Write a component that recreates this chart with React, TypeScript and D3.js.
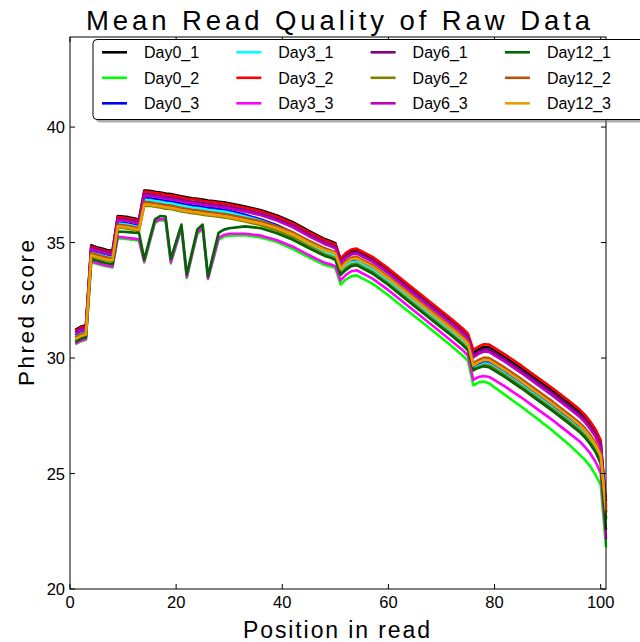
import React from 'react';
import * as d3 from 'd3';

const positions = [1,2,3,4,5,6,7,8,9,10,11,12,13,14,15,16,17,18,19,20,21,22,23,24,25,26,27,28,29,30,
  33,36,39,42,45,48,49,50,51,52,53,54,57,60,63,66,69,72,74,75,76,77,78,79,82,85,88,91,94,96,97,98,99,100,101];

const seriesNames = ['Day0_1','Day0_2','Day0_3','Day3_1','Day3_2','Day3_3','Day6_1','Day6_2','Day6_3','Day12_1','Day12_2','Day12_3'];

const day0_1 = [31.22,31.35,31.42, 34.88,34.80,34.74,34.68,34.64, 36.15,36.13,36.10,36.05,36.00,
  37.25,37.24,37.20,37.17,37.12,37.10,37.05,37.00,36.96,36.92,36.90,36.86,36.82,36.80,36.77,36.74,36.70,
  36.56,36.40,36.17,35.88,35.50,35.15,35.07,34.97,
  34.24,34.49,34.64,34.68,34.32,33.82,33.26,32.71,32.16,31.61,31.22,30.99,
  30.23,30.38,30.48,30.46,30.03,29.56,29.06,28.56,28.03,27.66,27.43,27.14,26.80,26.33, 23.35];
const day0_2 = [30.59,30.72,30.79, 34.16,34.08,34.02,33.96,33.92, 35.19,35.17,35.14,35.11,35.08,
  34.14,35.00,35.85,35.97,35.95,34.10,34.86,35.60,33.47,34.44,35.38,35.58,33.42,34.26,35.12,35.26,35.30,
  35.32,35.22,35.02,34.72,34.36,34.03,33.98,33.90,
  33.18,33.40,33.54,33.58,33.22,32.72,32.16,31.61,31.06,30.50,30.10,29.88,
  28.82,28.95,28.98,28.90,28.40,27.90,27.38,26.84,26.26,25.82,25.60,25.32,24.95,24.52, 21.80];
const day0_3 = [30.97,31.10,31.17, 34.63,34.55,34.49,34.43,34.39, 35.87,35.85,35.82,35.77,35.72,
  36.93,36.92,36.88,36.85,36.80,36.78,36.73,36.68,36.64,36.60,36.58,36.54,36.50,36.48,36.45,36.42,36.38,
  36.20,36.00,35.75,35.43,35.03,34.67,34.58,34.47,
  33.80,34.05,34.20,34.24,33.88,33.38,32.82,32.27,31.72,31.17,30.78,30.55,
  29.60,29.75,29.85,29.83,29.40,28.93,28.43,27.93,27.40,27.03,26.80,26.51,26.17,25.70, 23.10];
const day3_1 = [30.92,31.05,31.12, 34.58,34.50,34.44,34.38,34.34, 35.82,35.80,35.77,35.72,35.67,
  36.85,36.84,36.80,36.77,36.72,36.70,36.65,36.60,36.56,36.52,36.50,36.46,36.42,36.40,36.37,36.34,36.30,
  36.13,35.94,35.69,35.38,34.98,34.61,34.52,34.41,
  33.74,33.99,34.14,34.18,33.82,33.32,32.76,32.21,31.66,31.11,30.72,30.49,
  29.51,29.66,29.76,29.74,29.31,28.84,28.34,27.84,27.31,26.94,26.71,26.42,26.08,25.61, 23.00];
const day3_2 = [31.18,31.31,31.38, 34.83,34.75,34.69,34.63,34.59, 36.10,36.08,36.05,36.00,35.95,
  37.20,37.19,37.15,37.12,37.07,37.05,37.00,36.95,36.91,36.87,36.85,36.81,36.77,36.75,36.72,36.69,36.65,
  36.51,36.35,36.12,35.83,35.45,35.10,35.02,34.92,
  34.30,34.55,34.70,34.74,34.38,33.88,33.32,32.77,32.22,31.67,31.28,31.05,
  30.35,30.50,30.60,30.58,30.15,29.68,29.18,28.68,28.15,27.78,27.55,27.26,26.92,26.45, 23.50];
const day3_3 = [30.62,30.75,30.82, 34.20,34.12,34.06,34.00,33.96, 35.25,35.23,35.20,35.17,35.14,
  34.18,35.05,35.90,36.02,36.00,34.15,34.92,35.66,33.52,34.50,35.45,35.64,33.45,34.32,35.20,35.33,35.38,
  35.38,35.30,35.10,34.82,34.46,34.12,34.06,33.98,
  33.36,33.60,33.76,33.80,33.44,32.94,32.38,31.83,31.28,30.72,30.34,30.10,
  29.05,29.18,29.22,29.18,28.76,28.30,27.80,27.30,26.76,26.40,26.16,25.88,25.52,25.02, 22.15];
const day6_1 = [31.12,31.25,31.32, 34.78,34.70,34.64,34.58,34.54, 36.03,36.01,35.98,35.93,35.88,
  37.10,37.09,37.05,37.02,36.97,36.95,36.90,36.85,36.81,36.77,36.75,36.71,36.67,36.65,36.62,36.59,36.55,
  36.41,36.25,36.02,35.73,35.35,35.00,34.92,34.82,
  34.15,34.40,34.55,34.59,34.23,33.73,33.17,32.62,32.07,31.52,31.13,30.90,
  30.13,30.28,30.38,30.36,29.93,29.46,28.96,28.46,27.93,27.56,27.33,27.04,26.70,26.23, 23.80];
const day6_2 = [30.77,30.90,30.97, 34.42,34.34,34.28,34.22,34.18, 35.65,35.63,35.60,35.55,35.50,
  36.60,36.59,36.55,36.52,36.47,36.45,36.40,36.35,36.31,36.27,36.25,36.21,36.17,36.15,36.12,36.09,36.05,
  35.91,35.75,35.52,35.23,34.85,34.50,34.42,34.32,
  33.65,33.90,34.05,34.09,33.73,33.23,32.67,32.12,31.57,31.02,30.63,30.40,
  29.45,29.60,29.70,29.68,29.25,28.78,28.28,27.78,27.25,26.88,26.65,26.36,26.02,25.55, 23.00];
const day6_3 = [31.07,31.20,31.27, 34.72,34.64,34.58,34.52,34.48, 35.97,35.95,35.92,35.87,35.82,
  37.03,37.02,36.98,36.95,36.90,36.88,36.83,36.78,36.74,36.70,36.68,36.64,36.60,36.58,36.55,36.52,36.48,
  36.34,36.18,35.95,35.66,35.28,34.93,34.85,34.75,
  34.08,34.33,34.48,34.52,34.16,33.66,33.10,32.55,32.00,31.45,31.06,30.83,
  30.03,30.18,30.28,30.26,29.83,29.36,28.86,28.36,27.83,27.46,27.23,26.94,26.60,26.13, 23.60];
const day12_1 = [30.70,30.83,30.90, 34.30,34.22,34.16,34.10,34.06, 35.48,35.47,35.45,35.43,35.42,
  34.27,35.15,36.00,36.15,36.13,34.29,35.05,35.78,33.62,34.60,35.57,35.78,33.54,34.50,35.42,35.56,35.62,
  35.70,35.62,35.40,35.12,34.76,34.42,34.35,34.25,
  33.60,33.82,33.98,34.02,33.66,33.16,32.60,32.05,31.50,30.95,30.56,30.33,
  29.50,29.58,29.64,29.60,29.17,28.70,28.20,27.70,27.17,26.80,26.57,26.28,25.94,25.45, 22.55];
const day12_2 = [30.89,31.02,31.09, 34.55,34.47,34.41,34.35,34.31, 35.77,35.75,35.72,35.67,35.62,
  36.75,36.74,36.70,36.67,36.62,36.60,36.55,36.50,36.46,36.42,36.40,36.36,36.32,36.30,36.27,36.24,36.20,
  36.06,35.92,35.71,35.44,35.08,34.75,34.67,34.57,
  33.94,34.19,34.34,34.38,34.02,33.52,32.96,32.41,31.86,31.31,30.92,30.69,
  29.77,29.92,30.02,30.00,29.57,29.10,28.60,28.10,27.57,27.20,26.97,26.68,26.34,25.87, 23.30];
const day12_3 = [30.82,30.95,31.02, 34.46,34.38,34.32,34.26,34.22, 35.70,35.68,35.65,35.60,35.55,
  36.65,36.64,36.60,36.57,36.52,36.50,36.45,36.40,36.36,36.32,36.30,36.26,36.22,36.20,36.17,36.14,36.10,
  35.96,35.82,35.62,35.36,35.00,34.67,34.61,34.52,
  33.87,34.12,34.27,34.31,33.95,33.45,32.89,32.34,31.79,31.24,30.85,30.62,
  29.67,29.82,29.92,29.90,29.47,29.00,28.50,28.00,27.47,27.10,26.87,26.58,26.24,25.77, 23.40];

const seriesValues = [day0_1, day0_2, day0_3, day3_1, day3_2, day3_3, day6_1, day6_2, day6_3, day12_1, day12_2, day12_3];
const seriesColors = ['#000000','#00ff00','#0000ff','#00ffff','#ff0000','#ff00ff','#800080','#808000','#bf00bf','#006400','#b8520a','#eb9c00'];

const xTicks = [0, 20, 40, 60, 80, 100];
const yTicks = [20, 25, 30, 35, 40];

const FONT = '"Liberation Sans", Arial, Helvetica, sans-serif';

export default function App() {
  const W = 640, H = 642;
  const L = 70, R = 606, T = 37, B = 589;
  const x = d3.scaleLinear().domain([0, 101]).range([L, R]);
  const y = d3.scaleLinear().domain([20, 43.9]).range([B, T]);
  const line = d3.line<number>()
    .x((_, i) => x(positions[i]))
    .y(d => y(d));

  const tickLen = 5;
  const legX = 93, legY = 39.5, legW = 560, legH = 80;

  return (
    <svg width={W} height={H} style={{ position: 'absolute', left: 0, top: 0, background: '#fff' }}
      fontFamily={FONT}>
      <rect x={0} y={0} width={W} height={H} fill="#fff" />
      <g fill="none" strokeWidth={2.6} strokeLinejoin="round" strokeLinecap="butt">
        {seriesValues.map((vals, i) => (
          <path key={seriesNames[i]} d={line(vals) || ''} stroke={seriesColors[i]} />
        ))}
      </g>
      <rect x={L} y={T} width={R - L} height={B - T} fill="none" stroke="#000" strokeWidth={1} />
      {xTicks.map(t => (
        <g key={'x' + t}>
          <line x1={x(t)} x2={x(t)} y1={B} y2={B - tickLen} stroke="#000" />
          <line x1={x(t)} x2={x(t)} y1={T} y2={T + tickLen} stroke="#000" />
          <text x={x(t)} y={608} textAnchor="middle" fontSize={16.5} fill="#000">{t}</text>
        </g>
      ))}
      {yTicks.map(t => (
        <g key={'y' + t}>
          <line x1={L} x2={L + tickLen} y1={y(t)} y2={y(t)} stroke="#000" />
          <line x1={R} x2={R - tickLen} y1={y(t)} y2={y(t)} stroke="#000" />
          <text x={65} y={y(t) + 6} textAnchor="end" fontSize={16.5} fill="#000">{t}</text>
        </g>
      ))}
      <text x={243} y={638} fontSize={23} textLength={187} lengthAdjust="spacing" fill="#000">Position in read</text>
      <text transform={`translate(34,386) rotate(-90)`} fontSize={22.5} textLength={146} lengthAdjust="spacing" fill="#000">Phred score</text>
      <text x={86} y={29.5} fontSize={27.5} textLength={504} lengthAdjust="spacing" fill="#000">Mean Read Quality of Raw Data</text>
      <rect x={legX + 3} y={legY + 3} width={legW} height={legH} rx={4} fill="#777" opacity={0.6} />
      <rect x={legX} y={legY} width={legW} height={legH} rx={4} fill="#fff" stroke="#000" strokeWidth={1} />
      {seriesNames.map((name, i) => {
        const c = Math.floor(i / 3), r = i % 3;
        const lx = 102 + c * 134.3;
        const ly = 52.3 + r * 25.5;
        return (
          <g key={'leg' + name}>
            <line x1={lx} x2={lx + 25} y1={ly} y2={ly} stroke={seriesColors[i]} strokeWidth={2.6} />
            <text x={lx + 42} y={ly + 6} fontSize={16} fill="#000">{name}</text>
          </g>
        );
      })}
    </svg>
  );
}
